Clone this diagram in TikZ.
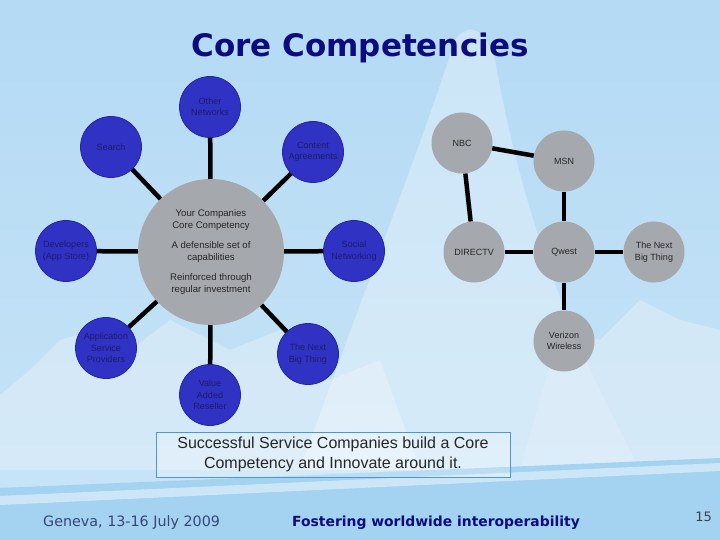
\documentclass[tikz,border=0pt]{standalone}
\usepackage{fontspec}
\setmainfont{Liberation Sans}
\newfontfamily\dejavu{DejaVu Sans}
\definecolor{skytop}{RGB}{180,218,244}
\definecolor{skymid}{RGB}{244,249,253}
\definecolor{skybot}{RGB}{200,228,247}
\definecolor{mount}{RGB}{224,238,249}
\definecolor{band}{RGB}{164,210,241}
\definecolor{nodeblue}{RGB}{48,50,196}
\definecolor{nodeblueedge}{RGB}{36,38,160}
\definecolor{bluetext}{RGB}{28,28,105}
\definecolor{nodegray}{RGB}{165,168,172}
\definecolor{titleblue}{RGB}{12,12,128}
\definecolor{footgray}{RGB}{55,70,120}
\definecolor{boxedge}{RGB}{80,150,210}
\tikzset{
  bluenode/.style={circle, minimum size=61pt, inner sep=0pt, fill=nodeblue,
    draw=nodeblueedge, line width=0.8pt, text=bluetext, align=center,
    font=\fontsize{9}{11.5}\selectfont},
  graynode/.style={circle, minimum size=61pt, inner sep=0pt, fill=nodegray,
    text=black!85, align=center, font=\fontsize{9}{11.5}\selectfont},
  corenode/.style={circle, minimum size=146pt, inner sep=0pt, fill=nodegray,
    text=black!85, align=center, font=\fontsize{9.6}{11.5}\selectfont},
  link/.style={line width=4.5pt, black},
}
\begin{document}
\begin{tikzpicture}[x=1pt,y=-1pt]
\useasboundingbox (0,0) rectangle (720,540);
% ---------- background ----------
\shade[top color=skytop, middle color=skymid, bottom color=skybot] (0,0) rectangle (720,540);
\fill[mount, opacity=0.6] (0,470) -- (0,395) -- (30,370) -- (60,340) -- (95,330) -- (130,350)
  -- (170,320) -- (230,350) -- (280,330) -- (330,380) -- (380,360) -- (420,470) -- cycle;
\fill[white, opacity=0.3] (300,470) .. controls (360,300) and (420,150) .. (455,40)
  .. controls (470,20) and (485,30) .. (495,60) .. controls (520,200) and (560,320) .. (640,470) -- cycle;
\fill[mount, opacity=0.6] (520,470) -- (560,330) -- (600,340) -- (640,300) -- (680,320) -- (720,330) -- (720,470) -- cycle;
\fill[band] (0,488) -- (720,458) -- (720,540) -- (0,540) -- cycle;
\fill[white, opacity=0.45] (0,496) -- (720,463) -- (720,471) -- (0,505) -- cycle;
% ---------- title ----------
\node[anchor=base, text=titleblue, font=\dejavu\bfseries\fontsize{31}{36}\selectfont] (title) at (360,57) {Core Competencies};
% ---------- left hub ----------
\node[corenode] (core) at (211,252) {Your Companies\\Core Competency\\[9pt]A defensible set of\\capabilities\\[9pt]Reinforced through\\regular investment};
\node[bluenode] (other) at (210,107) {Other\\Networks};
\node[bluenode] (search) at (111,147) {Search};
\node[bluenode] (content) at (313,152) {Content\\Agreements};
\node[bluenode] (dev) at (66,251) {Developers\\(App Store)};
\node[bluenode] (social) at (354,251) {Social\\Networking};
\node[bluenode] (asp) at (106,348) {Application\\Service\\Providers};
\node[bluenode] (nextblue) at (308,354) {The Next\\Big Thing};
\node[bluenode] (var) at (210,395) {Value\\Added\\Reseller};
\foreach \n in {other,search,content,dev,social,asp,nextblue,var}
  \draw[link] (core) -- (\n);
% ---------- right network ----------
\node[graynode] (nbc) at (462,143) {NBC};
\node[graynode] (msn) at (564,161) {MSN};
\node[graynode] (directv) at (474,252) {DIRECTV};
\node[graynode] (qwest) at (564,252) {Qwest};
\node[graynode] (nextgray) at (654,252) {The Next\\Big Thing};
\node[graynode] (verizon) at (564,341) {Verizon\\Wireless};
\draw[link] (nbc) -- (msn);
\draw[link] (nbc) -- (directv);
\draw[link] (msn) -- (qwest);
\draw[link] (directv) -- (qwest);
\draw[link] (qwest) -- (nextgray);
\draw[link] (qwest) -- (verizon);
% ---------- caption ----------
\node[draw=boxedge, line width=0.8pt, fill=white, fill opacity=0.25, text opacity=1,
  minimum width=354pt, minimum height=45pt, inner sep=0pt, align=center,
  text=black!85, font=\fontsize{16}{20}\selectfont] (caption) at (333,454.5)
  {Successful Service Companies build a Core\\Competency and Innovate around it.};
% ---------- footer ----------
\node[anchor=base west, inner sep=0pt, text=footgray, font=\dejavu\fontsize{14.3}{16}\selectfont] (date) at (43,526) {Geneva, 13-16 July 2009};
\node[anchor=base west, inner sep=0pt, text=titleblue, font=\dejavu\bfseries\fontsize{13.9}{16}\selectfont] (motto) at (292,526) {Fostering worldwide interoperability};
\node[anchor=base east, inner sep=0pt, text=black!75, font=\dejavu\fontsize{13}{16}\selectfont] (page) at (712,521) {15};
\end{tikzpicture}
\end{document}
